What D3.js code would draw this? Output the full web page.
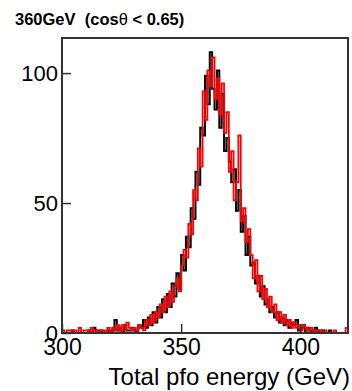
<!DOCTYPE html>
<html>
<head>
<meta charset="utf-8">
<script src="https://cdn.jsdelivr.net/npm/d3@7"></script>
<style>
  html, body { margin: 0; padding: 0; background: #fff; }
  svg { display: block; }
  text { font-family: "Liberation Sans", Arial, Helvetica, sans-serif; fill: #000; }
</style>
</head>
<body>
<svg id="chart" width="352" height="391"></svg>
<script>
// ---- data (1 GeV bins, lower edges 300 .. 419) ----
const binWidth = 1;
const binLow = d3.range(120).map(i => 300 + i * binWidth);
const blackCounts = [
  0,0,0,0,1,0,0,0,0,0,
  0,1,0,2,1,0,1,0,0,1,
  0,1,5,1,2,0,3,1,1,2,
  1,0,3,2,5,2,6,3,8,4,
  10,6,13,8,15,10,19,14,23,17,
  30,24,37,33,48,44,62,57,79,76,
  99,88,108,94,86,101,79,92,70,75,
  66,58,63,47,55,39,45,30,37,26,
  27,19,22,14,18,11,13,8,10,6,
  8,4,6,3,5,2,4,3,5,1,
  2,3,0,2,1,0,2,1,0,1,
  0,0,1,0,0,0,0,0,0,0
];
const redCounts = [
  1,0,1,1,0,1,0,2,0,1,
  1,0,2,0,1,0,1,1,0,2,
  0,2,1,3,1,3,1,4,2,1,
  2,1,3,2,1,5,3,7,4,8,
  6,11,8,14,10,16,12,18,21,16,
  26,32,29,42,38,55,51,71,64,93,
  82,101,95,106,90,98,84,96,77,85,
  62,70,51,58,76,43,48,35,40,30,
  21,28,16,22,13,17,10,14,8,11,
  5,8,4,7,3,5,2,4,2,3,
  1,3,2,0,2,1,0,1,1,0,
  1,0,0,0,1,0,0,0,0,2
];
const xTicks = [300, 350, 400];
const yTicks = [0, 50, 100];
const xDomain = [300, 420];
const yDomain = [0, 113.5];
const titleMain = "360GeV  (cos";
const titleTheta = "θ";
const titleRest = " < 0.65)";
const xTitle = "Total pfo energy (GeV)";

// ---- layout ----
const L = 62, R = 348, T = 38, B = 333;
const svg = d3.select("#chart");
const x = d3.scaleLinear().domain(xDomain).range([L, R]);
const y = d3.scaleLinear().domain(yDomain).range([B, T]);

function stepPoints(counts) {
  const pts = binLow.map((e, i) => [e, counts[i]]);
  pts.push([xDomain[1], counts[counts.length - 1]]);
  return pts;
}
const line = d3.line()
  .x(d => x(d[0]))
  .y(d => y(d[1]))
  .curve(d3.curveStepAfter);

const g = svg.append("g");
g.append("path")
  .attr("d", line(stepPoints(blackCounts)))
  .attr("fill", "none")
  .attr("stroke", "#000")
  .attr("stroke-width", 2);
g.append("path")
  .attr("d", line(stepPoints(redCounts)))
  .attr("fill", "none")
  .attr("stroke", "#ff0000")
  .attr("stroke-width", 1.8);

// frame
svg.append("rect")
  .attr("x", L).attr("y", T)
  .attr("width", R - L).attr("height", B - T)
  .attr("fill", "none")
  .attr("stroke", "#333")
  .attr("stroke-width", 2);

// x axis ticks (inside, upward)
const xAxis = d3.axisBottom(x).tickValues(xTicks).tickSize(-9).tickPadding(0).tickFormat(d3.format("d"));
const xg = svg.append("g").attr("transform", `translate(0,${B})`).call(xAxis);
xg.select(".domain").remove();
xg.selectAll(".tick line").attr("stroke", "#333").attr("stroke-width", 1.5);
xg.selectAll(".tick text")
  .attr("y", 22).attr("dy", null)
  .style("font-size", "23px")
  .style("font-family", '"Liberation Sans", Arial, sans-serif')
  .attr("fill", "#000");

// y axis ticks (inside, rightward)
const yAxis = d3.axisLeft(y).tickValues(yTicks).tickSize(-9).tickPadding(4).tickFormat(d3.format("d"));
const yg = svg.append("g").attr("transform", `translate(${L},0)`).call(yAxis);
yg.select(".domain").remove();
yg.selectAll(".tick line").attr("stroke", "#333").attr("stroke-width", 1.5);
yg.selectAll(".tick text")
  .attr("x", -4).attr("dy", "0.33em")
  .style("font-size", "22px")
  .style("font-family", '"Liberation Sans", Arial, sans-serif')
  .attr("fill", "#000");

// x title
svg.append("text")
  .attr("x", 350).attr("y", 385)
  .attr("text-anchor", "end")
  .style("font-size", "24px")
  .text(xTitle);

// plot title
const tt = svg.append("text")
  .attr("x", 15).attr("y", 25)
  .style("font-size", "16.5px")
  .style("font-weight", "bold")
  .attr("xml:space", "preserve")
  .style("white-space", "pre");
tt.append("tspan").text(titleMain);
tt.append("tspan").style("font-weight", "normal").text(titleTheta);
tt.append("tspan").text(titleRest);
</script>
</body>
</html>
